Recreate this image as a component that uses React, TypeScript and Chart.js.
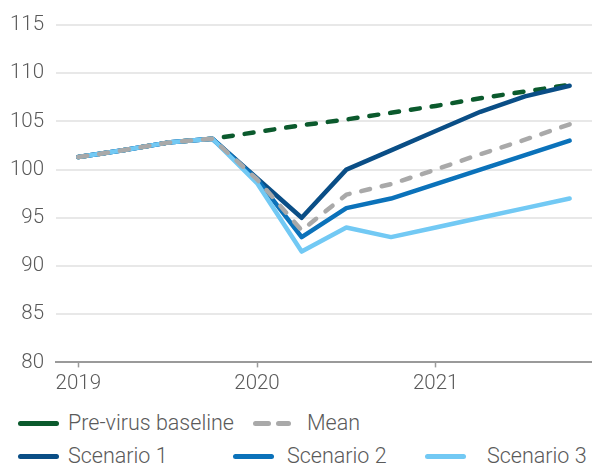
import React, { useEffect, useRef } from "react";
import { Chart, registerables } from "chart.js";

Chart.register(...registerables);

// Quarterly index, 2019 Q1 – 2021 Q4
const quarters = [
  "2019", "2019 Q2", "2019 Q3", "2019 Q4",
  "2020", "2020 Q2", "2020 Q3", "2020 Q4",
  "2021", "2021 Q2", "2021 Q3", "2021 Q4",
];
const yearTicks = ["2019", "2020", "2021"];

const baseline = [101.3, 102.0, 102.8, 103.2, 103.9, 104.6, 105.2, 105.9, 106.6, 107.4, 108.1, 108.8];
const mean = [101.3, 102.0, 102.8, 103.2, 99.0, 93.7, 97.4, 98.5, 100.0, 101.6, 103.1, 104.7];
const scenario1 = [101.3, 102.0, 102.8, 103.2, 99.1, 95.0, 100.0, 102.0, 104.0, 106.0, 107.6, 108.7];
const scenario2 = [101.3, 102.0, 102.8, 103.2, 99.0, 93.0, 96.0, 97.0, 98.5, 100.0, 101.5, 103.0];
const scenario3 = [101.3, 102.0, 102.8, 103.2, 98.6, 91.5, 94.0, 93.0, 94.0, 95.0, 96.0, 97.0];

const yTicks = [80, 85, 90, 95, 100, 105, 110, 115];

const GREEN = "#0b5a2d";
const NAVY = "#0a4e86";
const BLUE = "#0b72ba";
const LIGHT = "#72c9f4";
const GREY = "#a9a9a9";
const TEXT = "#5a5a5a";
const FONT = "Roboto, 'Liberation Sans', sans-serif";

const legendRows = [
  [
    { label: "Pre-virus baseline", color: GREEN, dashed: false, x: 18, tx: 68 },
    { label: "Mean", color: GREY, dashed: true, x: 253, tx: 307 },
  ],
  [
    { label: "Scenario 1", color: NAVY, dashed: false, x: 18, tx: 68 },
    { label: "Scenario 2", color: BLUE, dashed: false, x: 233, tx: 287 },
    { label: "Scenario 3", color: LIGHT, dashed: false, x: 425, tx: 487 },
  ],
];

function Swatch({ color, dashed, x, y }: { color: string; dashed: boolean; x: number; y: number }) {
  if (dashed) {
    return (
      <>
        <div style={{ position: "absolute", left: x, top: y - 2.5, width: 18, height: 5, borderRadius: 3, background: color }} />
        <div style={{ position: "absolute", left: x + 23, top: y - 2.5, width: 15, height: 5, borderRadius: 3, background: color }} />
      </>
    );
  }
  return (
    <div style={{ position: "absolute", left: x, top: y - 2.5, width: 41, height: 5, borderRadius: 3, background: color }} />
  );
}

export default function App() {
  const canvasRef = useRef<HTMLCanvasElement | null>(null);

  useEffect(() => {
    const ctx = canvasRef.current;
    if (!ctx) return;
    const line = (label: string, data: number[], color: string, dashed: boolean) => ({
      label,
      data,
      borderColor: color,
      backgroundColor: color,
      borderWidth: 4.5,
      borderDash: dashed ? [9, 12] : [],
      borderCapStyle: "round" as const,
      borderJoinStyle: "round" as const,
      pointRadius: 0,
      tension: 0,
      fill: false,
    });
    const chart = new Chart(ctx, {
      type: "line",
      data: {
        labels: quarters,
        // first dataset is painted last (on top)
        datasets: [
          line("Mean", mean, GREY, true),
          line("Scenario 3", scenario3, LIGHT, false),
          line("Scenario 2", scenario2, BLUE, false),
          line("Scenario 1", scenario1, NAVY, false),
          line("Pre-virus baseline", baseline, GREEN, true),
        ],
      },
      options: {
        animation: false,
        responsive: false,
        maintainAspectRatio: false,
        layout: { padding: { top: 25, right: 0, left: 0, bottom: 0 } },
        plugins: {
          legend: { display: false },
          tooltip: { enabled: false },
        },
        scales: {
          x: {
            type: "category",
            offset: true,
            afterBuildTicks: (scale: any) => {
              scale.ticks = scale.ticks.filter((t: any) => yearTicks.includes(quarters[t.value]));
            },
            grid: {
              offset: false,
              drawOnChartArea: false,
              drawTicks: true,
              tickLength: 5,
              tickWidth: 1.5,
              tickColor: "#9a9a9a",
            },
            border: { display: true, color: "#9a9a9a", width: 2 },
            ticks: {
              autoSkip: false,
              maxRotation: 0,
              padding: 4,
              color: TEXT,
              font: { family: FONT, size: 20.5, weight: 300 },
            },
          },
          y: {
            min: 80,
            max: 115,
            afterFit: (scale: any) => {
              scale.width = 56;
            },
            afterBuildTicks: (scale: any) => {
              scale.ticks = yTicks.map((v) => ({ value: v }));
            },
            grid: {
              color: "#e8e8e8",
              lineWidth: 2,
              drawTicks: false,
            },
            border: { display: false },
            ticks: {
              padding: 12,
              color: TEXT,
              font: { family: FONT, size: 20.5, weight: 300 },
            },
          },
        },
      },
    });
    return () => chart.destroy();
  }, []);

  return (
    <div style={{ position: "absolute", left: 0, top: 0, width: 592, height: 465, background: "#fff", overflow: "hidden", fontFamily: FONT }}>
      <canvas ref={canvasRef} width={592} height={400} style={{ position: "absolute", left: 0, top: 0 }} />
      {legendRows.map((row, ri) =>
        row.map((item) => {
          const cy = ri === 0 ? 423 : 456;
          return (
            <React.Fragment key={item.label}>
              <Swatch color={item.color} dashed={item.dashed} x={item.x} y={cy} />
              <div
                style={{
                  position: "absolute",
                  left: item.tx,
                  top: cy - 14,
                  height: 28,
                  lineHeight: "28px",
                  fontSize: 21.5,
                  fontWeight: 300,
                  color: TEXT,
                  whiteSpace: "nowrap",
                }}
              >
                {item.label}
              </div>
            </React.Fragment>
          );
        })
      )}
    </div>
  );
}
